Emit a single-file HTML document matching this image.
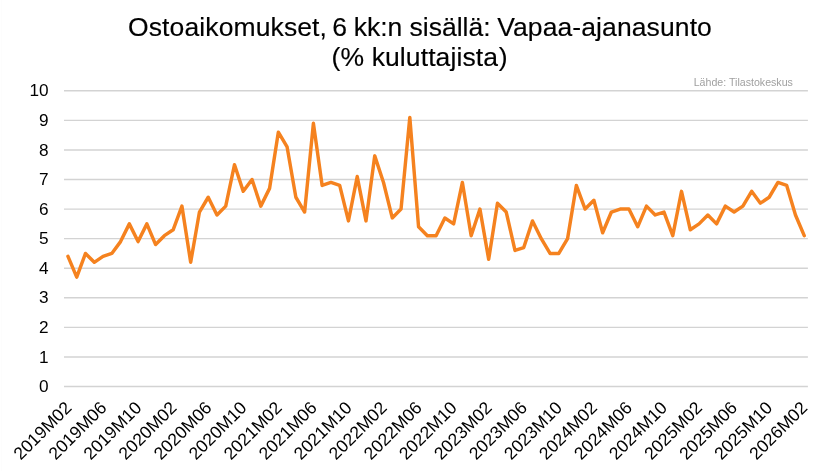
<!DOCTYPE html>
<html lang="fi">
<head>
<meta charset="utf-8">
<title>Ostoaikomukset, 6 kk:n sisällä: Vapaa-ajanasunto</title>
<style>
html,body{margin:0;padding:0;background:#fff;}
body{width:831px;height:471px;overflow:hidden;}
svg{display:block;}
text{font-family:"Liberation Sans",sans-serif;fill:#000;}
.title{font-size:26.5px;text-anchor:start;stroke:#000;stroke-width:0.15px;}
.ax{font-size:17.6px;}
.yl{text-anchor:end;font-size:17.2px;}
.xl{text-anchor:end;}
.src{font-size:11.4px;fill:#a0a0a0;}
</style>
</head>
<body>
<svg width="831" height="471" viewBox="0 0 831 471">
<rect x="0" y="0" width="831" height="471" fill="#ffffff"/>
<rect x="1" y="0" width="1" height="471" fill="#fdfdfd"/>

<g stroke="#d3d3d3" stroke-width="1.4" fill="none">
<line x1="64.00" y1="386.50" x2="807.90" y2="386.50"/>
<line x1="64.00" y1="356.93" x2="807.90" y2="356.93"/>
<line x1="64.00" y1="327.36" x2="807.90" y2="327.36"/>
<line x1="64.00" y1="297.79" x2="807.90" y2="297.79"/>
<line x1="64.00" y1="268.22" x2="807.90" y2="268.22"/>
<line x1="64.00" y1="238.65" x2="807.90" y2="238.65"/>
<line x1="64.00" y1="209.08" x2="807.90" y2="209.08"/>
<line x1="64.00" y1="179.51" x2="807.90" y2="179.51"/>
<line x1="64.00" y1="149.94" x2="807.90" y2="149.94"/>
<line x1="64.00" y1="120.37" x2="807.90" y2="120.37"/>
<line x1="64.00" y1="90.80" x2="807.90" y2="90.80"/>
</g>
<text class="title" y="36.0"><tspan x="128.0" style="letter-spacing:0.115px">Ostoaikomukset, </tspan><tspan x="332.25">6 </tspan><tspan x="353.66">kk:n </tspan><tspan x="409.62">sisällä: </tspan><tspan x="497.2" style="letter-spacing:0.1px">Vapaa-ajanasunto</tspan></text>
<text class="title" y="66.0"><tspan x="331.6">(% </tspan><tspan x="371.66" style="letter-spacing:0.1px">kuluttajista</tspan><tspan x="498.8">)</tspan></text>
<text class="src" x="693.7" y="85.9" textLength="99.2" lengthAdjust="spacingAndGlyphs">Lähde: Tilastokeskus</text>
<g class="ax yl">
<text x="48.6" y="392.12">0</text>
<text x="48.6" y="362.55">1</text>
<text x="48.6" y="332.98">2</text>
<text x="48.6" y="303.41">3</text>
<text x="48.6" y="273.84">4</text>
<text x="48.6" y="244.27">5</text>
<text x="48.6" y="214.70">6</text>
<text x="48.6" y="185.13">7</text>
<text x="48.6" y="155.56">8</text>
<text x="48.6" y="125.99">9</text>
<text x="48.6" y="96.42">10</text>
</g>
<g class="ax xl">
<text transform="translate(72.62 408.85) rotate(-45)" x="0" y="0">2019M02</text>
<text transform="translate(107.66 408.85) rotate(-45)" x="0" y="0">2019M06</text>
<text transform="translate(142.69 408.85) rotate(-45)" x="0" y="0">2019M10</text>
<text transform="translate(177.73 408.85) rotate(-45)" x="0" y="0">2020M02</text>
<text transform="translate(212.76 408.85) rotate(-45)" x="0" y="0">2020M06</text>
<text transform="translate(247.80 408.85) rotate(-45)" x="0" y="0">2020M10</text>
<text transform="translate(282.84 408.85) rotate(-45)" x="0" y="0">2021M02</text>
<text transform="translate(317.87 408.85) rotate(-45)" x="0" y="0">2021M06</text>
<text transform="translate(352.91 408.85) rotate(-45)" x="0" y="0">2021M10</text>
<text transform="translate(387.94 408.85) rotate(-45)" x="0" y="0">2022M02</text>
<text transform="translate(422.98 408.85) rotate(-45)" x="0" y="0">2022M06</text>
<text transform="translate(458.02 408.85) rotate(-45)" x="0" y="0">2022M10</text>
<text transform="translate(493.05 408.85) rotate(-45)" x="0" y="0">2023M02</text>
<text transform="translate(528.09 408.85) rotate(-45)" x="0" y="0">2023M06</text>
<text transform="translate(563.12 408.85) rotate(-45)" x="0" y="0">2023M10</text>
<text transform="translate(598.16 408.85) rotate(-45)" x="0" y="0">2024M02</text>
<text transform="translate(633.20 408.85) rotate(-45)" x="0" y="0">2024M06</text>
<text transform="translate(668.23 408.85) rotate(-45)" x="0" y="0">2024M10</text>
<text transform="translate(703.27 408.85) rotate(-45)" x="0" y="0">2025M02</text>
<text transform="translate(738.30 408.85) rotate(-45)" x="0" y="0">2025M06</text>
<text transform="translate(773.34 408.85) rotate(-45)" x="0" y="0">2025M10</text>
<text transform="translate(808.38 408.85) rotate(-45)" x="0" y="0">2026M02</text>
</g>
<polyline points="67.97,256.39 76.73,277.09 85.50,253.44 94.27,262.31 103.03,256.39 111.80,253.44 120.56,241.61 129.32,223.87 138.09,241.61 146.86,223.87 155.62,244.56 164.38,235.69 173.15,229.78 181.92,206.12 190.68,262.31 199.45,212.04 208.21,197.25 216.97,214.99 225.74,206.12 234.51,164.72 243.27,191.34 252.03,179.51 260.80,206.12 269.57,188.38 278.33,132.20 287.10,146.98 295.86,197.25 304.62,212.04 313.39,123.33 322.15,185.42 330.92,182.47 339.69,185.42 348.45,220.91 357.22,176.55 365.98,220.91 374.75,155.85 383.51,182.47 392.27,217.95 401.04,209.08 409.81,117.41 418.57,226.82 427.34,235.69 436.10,235.69 444.87,217.95 453.63,223.87 462.39,182.47 471.16,235.69 479.93,209.08 488.69,259.35 497.46,203.17 506.22,212.04 514.99,250.48 523.75,247.52 532.51,220.91 541.28,238.65 550.05,253.44 558.81,253.44 567.58,238.65 576.34,185.42 585.11,209.08 593.87,200.21 602.64,232.74 611.40,212.04 620.17,209.08 628.93,209.08 637.70,226.82 646.46,206.12 655.23,214.99 663.99,212.04 672.76,235.69 681.52,191.34 690.29,229.78 699.05,223.87 707.82,214.99 716.58,223.87 725.35,206.12 734.11,212.04 742.88,206.12 751.64,191.34 760.41,203.17 769.17,197.25 777.94,182.47 786.70,185.42 795.47,214.99 804.23,235.69" fill="none" stroke="#f5821f" stroke-width="3.45" stroke-linejoin="round" stroke-linecap="round"/>
</svg>
</body>
</html>
